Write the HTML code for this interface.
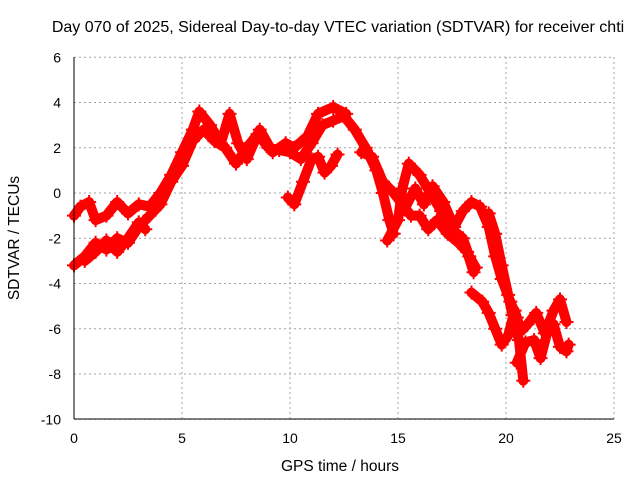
<!DOCTYPE html>
<html><head><meta charset="utf-8"><style>
body{margin:0;background:#fff}
svg text{font-family:"Liberation Sans",sans-serif;font-size:14px;fill:#000}
svg text.big{font-size:15.5px}
svg text.title{font-size:16px}
</style></head><body>
<svg id="chart" width="640" height="480" xmlns="http://www.w3.org/2000/svg">
<text class="title" x="338" y="32" text-anchor="middle">Day 070 of 2025, Sidereal Day-to-day VTEC variation (SDTVAR) for receiver chti</text>
<g id="grid"></g>
<g id="ticks"></g>
<g id="series"></g>
<line x1="74" y1="57" x2="74" y2="419" stroke="#000"/>
<line x1="74" y1="419" x2="614" y2="419" stroke="#000"/>
<text class="big" x="340" y="471" text-anchor="middle">GPS time / hours</text>
<text class="big" transform="translate(19,238) rotate(-90)" text-anchor="middle">SDTVAR / TECUs</text>
</svg>
<script>
const xTicks=[0,5,10,15,20,25];
const yTicks=[6,4,2,0,-2,-4,-6,-8,-10];
const trackA=[[0,-3.2],[0.5,-2.8],[1,-2.2],[1.5,-2.5],[2,-2],[2.5,-2.2],[3,-1.5],[3.5,-1],[4,-0.5],[4.5,0.5],[5,1.2],[5.5,2.3],[6,2.8],[6.5,2.3],[7,2],[7.5,1.3],[8,2],[8.5,2.6],[9,2],[9.5,1.9],[10,1.8],[10.5,1.5],[11,2.2],[11.5,3],[12,3.2],[12.5,3.4],[13,2.8],[13.5,2],[14,1],[14.3,0],[14.6,-1.2],[14.8,-1.8]];
const trackB=[[0,-1],[0.3,-0.6],[0.7,-0.4],[1,-1.2],[1.5,-1],[2,-0.4],[2.5,-0.9],[3,-0.5],[3.5,-0.6],[4,0],[4.5,0.8],[5,1.8],[5.5,2.8],[5.8,3.6],[6.3,3],[6.8,2.2],[7.2,3.5],[7.6,2.2],[8,1.5],[8.6,2.8],[9.2,1.8],[9.8,2.2],[10.2,2],[10.8,2.5],[11.3,3.5],[12,3.8],[12.6,3.5]];
const trackC=[[0.5,-3],[1,-2.6],[1.5,-2.1],[2,-2.6],[2.5,-2],[3,-1.3],[3.3,-1.6]];
const trackD=[[9.9,-0.2],[10.2,-0.5],[10.6,0.5],[11,1.5],[11.3,1.6],[11.6,0.9],[11.9,1.2],[12.2,1.7]];
const trackE=[[13.3,1.8],[13.8,1.6],[14.3,0.5],[14.8,0],[15.2,-0.5],[15.6,-1],[16,-1],[16.4,-1.6],[16.8,-1.2],[17.3,-1.8],[17.8,-2.2],[18.2,-2.6],[18.5,-3.5]];
const trackF=[[14.5,-2.1],[15,-1.2],[15.2,0.2],[15.5,1.3],[16,0.8],[16.5,0],[17,-0.8],[17.5,-1.6],[18,-2],[18.3,-2.8],[18.6,-3.3]];
const trackG=[[15.3,-0.7],[15.8,0.2],[16.2,-0.5],[16.6,0.3],[17.1,-0.4],[17.6,-1.5],[18,-0.8],[18.4,-0.4],[18.8,-0.6],[19.2,-1.5],[19.5,-2.8],[19.8,-3.8],[20.2,-4.8],[20.5,-5.5]];
const trackH=[[19.2,-0.9],[19.5,-1.8],[19.8,-3.2],[20.1,-4.5],[20.3,-5.4],[20.6,-6.5],[20.8,-8.3]];
const trackI=[[18.4,-4.4],[18.9,-4.8],[19.2,-5.3],[19.5,-6],[19.8,-6.7],[20.1,-6.3],[20.4,-5.2],[20.7,-6.1],[21,-5.8],[21.4,-5.3],[21.8,-6.2],[22.2,-5.2],[22.5,-4.7],[22.8,-5.7]];
const trackJ=[[20.5,-7.5],[20.9,-6.6],[21.3,-6.5],[21.6,-7.3],[21.9,-6.2],[22.2,-5.8],[22.5,-6.8],[22.8,-7],[22.9,-6.7]];
const tracks=[trackA,trackB,trackC,trackD,trackE,trackF,trackG,trackH,trackI,trackJ];
const X=v=>74+v*21.6, Y=v=>193-v*22.625;
const NS='http://www.w3.org/2000/svg';
const grid=document.getElementById('grid'),ticks=document.getElementById('ticks'),ser=document.getElementById('series');
function mk(p,t,a){const e=document.createElementNS(NS,t);for(const k in a)e.setAttribute(k,a[k]);p.appendChild(e);return e;}
xTicks.forEach(t=>{
 const l=mk(grid,'line',{x1:X(t),x2:X(t),y1:57,y2:419,stroke:'#a0a0a0','stroke-dasharray':'2,3'});
 
 
 const tx=mk(ticks,'text',{x:X(t),y:443,'text-anchor':'middle'});tx.textContent=t;
 
 
});
yTicks.forEach(t=>{
 const l=mk(grid,'line',{x1:74,x2:614,y1:Y(t),y2:Y(t),stroke:'#a0a0a0','stroke-dasharray':'2,3'});
 
 
 const tx=mk(ticks,'text',{x:61,y:Y(t)+5,'text-anchor':'end'});tx.textContent=t;
 
 
});
tracks.forEach(tr=>{
 const pl=mk(ser,'polyline',{points:tr.map(p=>X(p[0])+','+Y(p[1])).join(' '),fill:'none',stroke:'#ff0000','stroke-width':10,'stroke-linejoin':'round','stroke-linecap':'round'});
 
 
 tr.forEach(p=>{
  const m=mk(ser,'path',{d:`M${X(p[0])-7},${Y(p[1])}h14M${X(p[0])},${Y(p[1])-7}v14`,stroke:'#ff0000','stroke-width':2});
  
  
 });
});
</script>
</body></html>
